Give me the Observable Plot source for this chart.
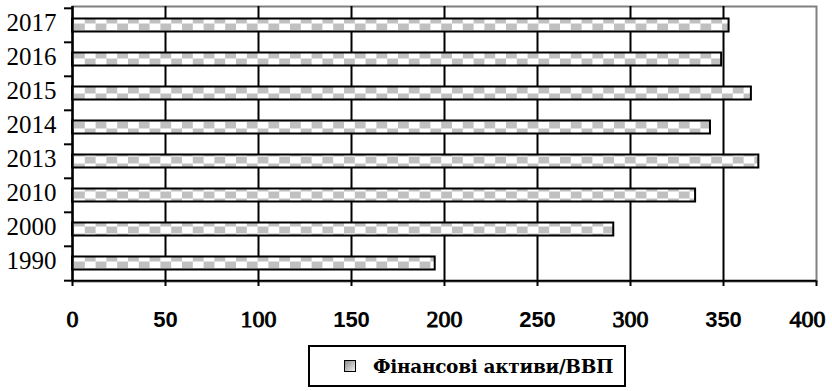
<!DOCTYPE html>
<html>
<head>
<meta charset="utf-8">
<script src="https://cdn.jsdelivr.net/npm/d3@7"></script>
<script src="https://cdn.jsdelivr.net/npm/@observablehq/plot@0.6"></script>
<style>
  html, body { margin: 0; padding: 0; background: #fff; }
  #wrap { position: relative; width: 832px; height: 391px; }
  #legend {
    position: absolute; left: 308px; top: 345px; width: 318px; height: 42px;
    border: 2px solid #000; box-sizing: border-box; background: #fff;
    display: flex; align-items: center;
  }
  #legend .sw {
    width: 10px; height: 10px; border: 1.5px solid #000; margin-left: 34px; margin-right: 17px;
    background: linear-gradient(135deg, #8a8a8a, #f0f0f0);
  }
  #legend .lt {
    font-family: 'DejaVu Serif', serif;
    font-weight: 700; font-size: 18.5px; color: #000; white-space: nowrap;
    letter-spacing: -0.3px;
  }
</style>
</head>
<body>
<div id="wrap">
  <div id="chart"></div>
  <div id="legend"><span class="sw"></span><span class="lt"></span></div>
</div>
<script>
// Financial assets to GDP ratio, %, by year (top to bottom)
const years = ["2017", "2016", "2015", "2014", "2013", "2010", "2000", "1990"];
const values = [353, 349, 365, 343, 369, 335, 291, 195];
const xTicks = [0, 50, 100, 150, 200, 250, 300, 350, 400];
const seriesName = "Фінансові активи/ВВП";

const rows = years.map((year, i) => ({year, value: values[i]}));

const W = 832, H = 340;
const mTop = 6, mBottom = 59, mLeft = 72, mRight = 16;
const step = (H - mTop - mBottom) / years.length;
const half = step / 2;
const lastYear = years[years.length - 1];

const serif = "Liberation Serif, Times New Roman, serif";
const sans = "Liberation Sans, Arial, sans-serif";

// heavy serif numerals: regular face thickened with a thin outline
const serifBold = {fontFamily: serif, fontSize: 24, fill: "#000", stroke: "#000", strokeWidth: 0.9};

const chart = Plot.plot({
  width: W,
  height: H,
  marginTop: mTop,
  marginBottom: mBottom,
  marginLeft: mLeft,
  marginRight: mRight,
  x: {domain: [0, 400], axis: null},
  y: {domain: years, padding: 0, axis: null},
  marks: [
    // plot area border (top and right remain grey)
    Plot.frame({stroke: "#808080", strokeWidth: 2}),
    // vertical gridlines
    Plot.ruleX(xTicks.filter(t => t > 0 && t < 400), {stroke: "#000", strokeWidth: 2}),
    // bars with checkered fill
    Plot.barX(rows, {
      x: "value", y: "year",
      fill: "url(#chk)", stroke: "#000", strokeWidth: 2,
      insetTop: 10.5, insetBottom: 10.5
    }),
    // left axis line and outward ticks at band boundaries
    Plot.ruleX([0], {stroke: "#000", strokeWidth: 2.5}),
    Plot.ruleY(years, {y: d => d, x1: -4.3, x2: 0, dy: -half, stroke: "#000", strokeWidth: 2}),
    Plot.ruleY([lastYear], {y: d => d, x1: -4.3, x2: 0, dy: half, stroke: "#000", strokeWidth: 2}),
    // bottom axis line and short downward ticks
    Plot.ruleY([lastYear], {y: d => d, x1: 0, x2: 400, dy: half, stroke: "#000", strokeWidth: 2}),
    Plot.tickX(xTicks, {
      x: d => d, y: () => lastYear, dy: step, insetBottom: step - 6,
      stroke: "#000", strokeWidth: 2
    }),
    // year labels
    Plot.text(years, {
      y: d => d, text: d => d, frameAnchor: "left", textAnchor: "end",
      dx: -16, dy: -3, fontFamily: serif, fontSize: 25, fill: "#000"
    }),
    // x tick labels: hundreds in serif, fifties in sans
    Plot.text(xTicks.filter(t => t % 100 === 0 && t < 400), {
      x: d => d, text: d => String(d), frameAnchor: "bottom", dy: 45, ...serifBold
    }),
    Plot.text(xTicks.filter(t => t === 400), {
      x: d => d, text: d => String(d), frameAnchor: "bottom", dy: 45, dx: -9, ...serifBold
    }),
    Plot.text(xTicks.filter(t => t % 100 !== 0), {
      x: d => d, text: d => String(d), frameAnchor: "bottom", dy: 45,
      fontFamily: sans, fontWeight: "bold", fontSize: 22, fill: "#000"
    })
  ]
});

// checkered fill pattern
const svg = d3.select(chart);
const defs = svg.insert("defs", ":first-child");
const pat = defs.append("pattern")
  .attr("id", "chk").attr("patternUnits", "userSpaceOnUse")
  .attr("x", 74).attr("y", 16.5).attr("width", 21.6).attr("height", 14);
pat.append("rect").attr("width", 21.6).attr("height", 14).attr("fill", "#fff");
pat.append("rect").attr("x", 10.8).attr("y", 0).attr("width", 10.8).attr("height", 7).attr("fill", "#c0c0c0");
pat.append("rect").attr("x", 0).attr("y", 7).attr("width", 10.8).attr("height", 7).attr("fill", "#c0c0c0");

document.getElementById("chart").appendChild(chart);
document.querySelector("#legend .lt").textContent = seriesName;
</script>
</body>
</html>
